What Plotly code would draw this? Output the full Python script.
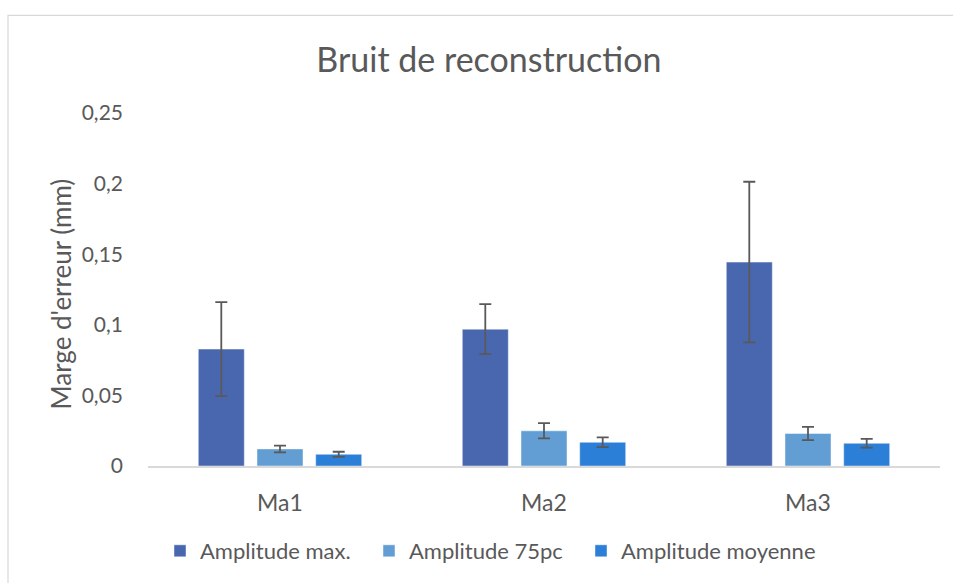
import plotly.graph_objects as go

# Reconstruction noise per sample, three amplitude measures (mm)
categories = ["Ma1", "Ma2", "Ma3"]
series_names = ["Amplitude max.", "Amplitude 75pc", "Amplitude moyenne"]
amp_max = [0.0828, 0.0969, 0.1444]
amp_max_err = [0.0333, 0.0177, 0.0569]
amp_75pc = [0.0121, 0.0249, 0.0230]
amp_75pc_err = [0.0024, 0.0054, 0.0047]
amp_moy = [0.0083, 0.0168, 0.0161]
amp_moy_err = [0.0018, 0.0035, 0.0031]

colors = ["#4967AE", "#629ED3", "#2B7FD7"]
values = [amp_max, amp_75pc, amp_moy]
errors = [amp_max_err, amp_75pc_err, amp_moy_err]

FONT = "Lato"
GREY = "#595959"

W, H = 953, 583
L, R, T, B = 148, 13, 113, 116
pw, ph = W - L - R, H - T - B

def px_x(x):
    return (x - L) / pw

def px_y(y):
    return (H - B - y) / ph

# one legend box per series, laid out in a single row under the axis
legend_ids = ["legend", "legend2", "legend3"]
legend_left = [160, 369, 581]

fig = go.Figure()
for name, vals, errs, col, lid in zip(series_names, values, errors, colors, legend_ids):
    fig.add_trace(go.Bar(
        x=categories, y=vals, name=name, legend=lid,
        marker=dict(color=col, line=dict(color="rgba(255,255,255,0.45)", width=1)),
        error_y=dict(type="data", array=errs, visible=True,
                     color=GREY, thickness=1.8, width=6),
    ))

legend_style = dict(orientation="h", xanchor="left", yanchor="middle",
                    y=px_y(551), font=dict(family=FONT, size=22, color=GREY),
                    itemwidth=30, bgcolor="rgba(0,0,0,0)")
legends = {lid: dict(legend_style, x=px_x(xl)) for lid, xl in zip(legend_ids, legend_left)}

fig.update_layout(
    width=W, height=H,
    margin=dict(l=L, r=R, t=T, b=B),
    paper_bgcolor="white", plot_bgcolor="white",
    barmode="group", bargap=0.333, bargroupgap=0.216,
    separators=", ",
    font=dict(family=FONT, color=GREY, size=20),
    title=dict(text="Bruit de reconstruction", x=0.513, xanchor="center",
               y=1 - 60 / H, yanchor="middle",
               font=dict(family=FONT, size=34, color=GREY)),
    showlegend=True,
    xaxis=dict(showline=True, linecolor="#D9D9D9", linewidth=1.5,
               showgrid=False, ticks="", ticklabelstandoff=16,
               tickfont=dict(size=23, color=GREY)),
    yaxis=dict(range=[0, 0.25], dtick=0.05, showgrid=False, zeroline=False,
               showline=False, ticks="", ticklabelstandoff=24,
               tickformat=".2~f",
               tickfont=dict(size=21, color=GREY)),
    annotations=[dict(text="Marge d'erreur (mm)", textangle=-90,
                      xref="paper", yref="paper",
                      x=px_x(61), y=px_y(295), xanchor="center", yanchor="middle",
                      showarrow=False, font=dict(family=FONT, size=26, color=GREY))],
    shapes=[dict(type="rect", xref="paper", yref="paper",
                 x0=px_x(8), x1=px_x(1000), y0=px_y(650), y1=px_y(15),
                 line=dict(color="#D9D9D9", width=1.2), fillcolor="rgba(0,0,0,0)",
                 layer="below")],
    **legends,
)

fig.write_html("out.html")
